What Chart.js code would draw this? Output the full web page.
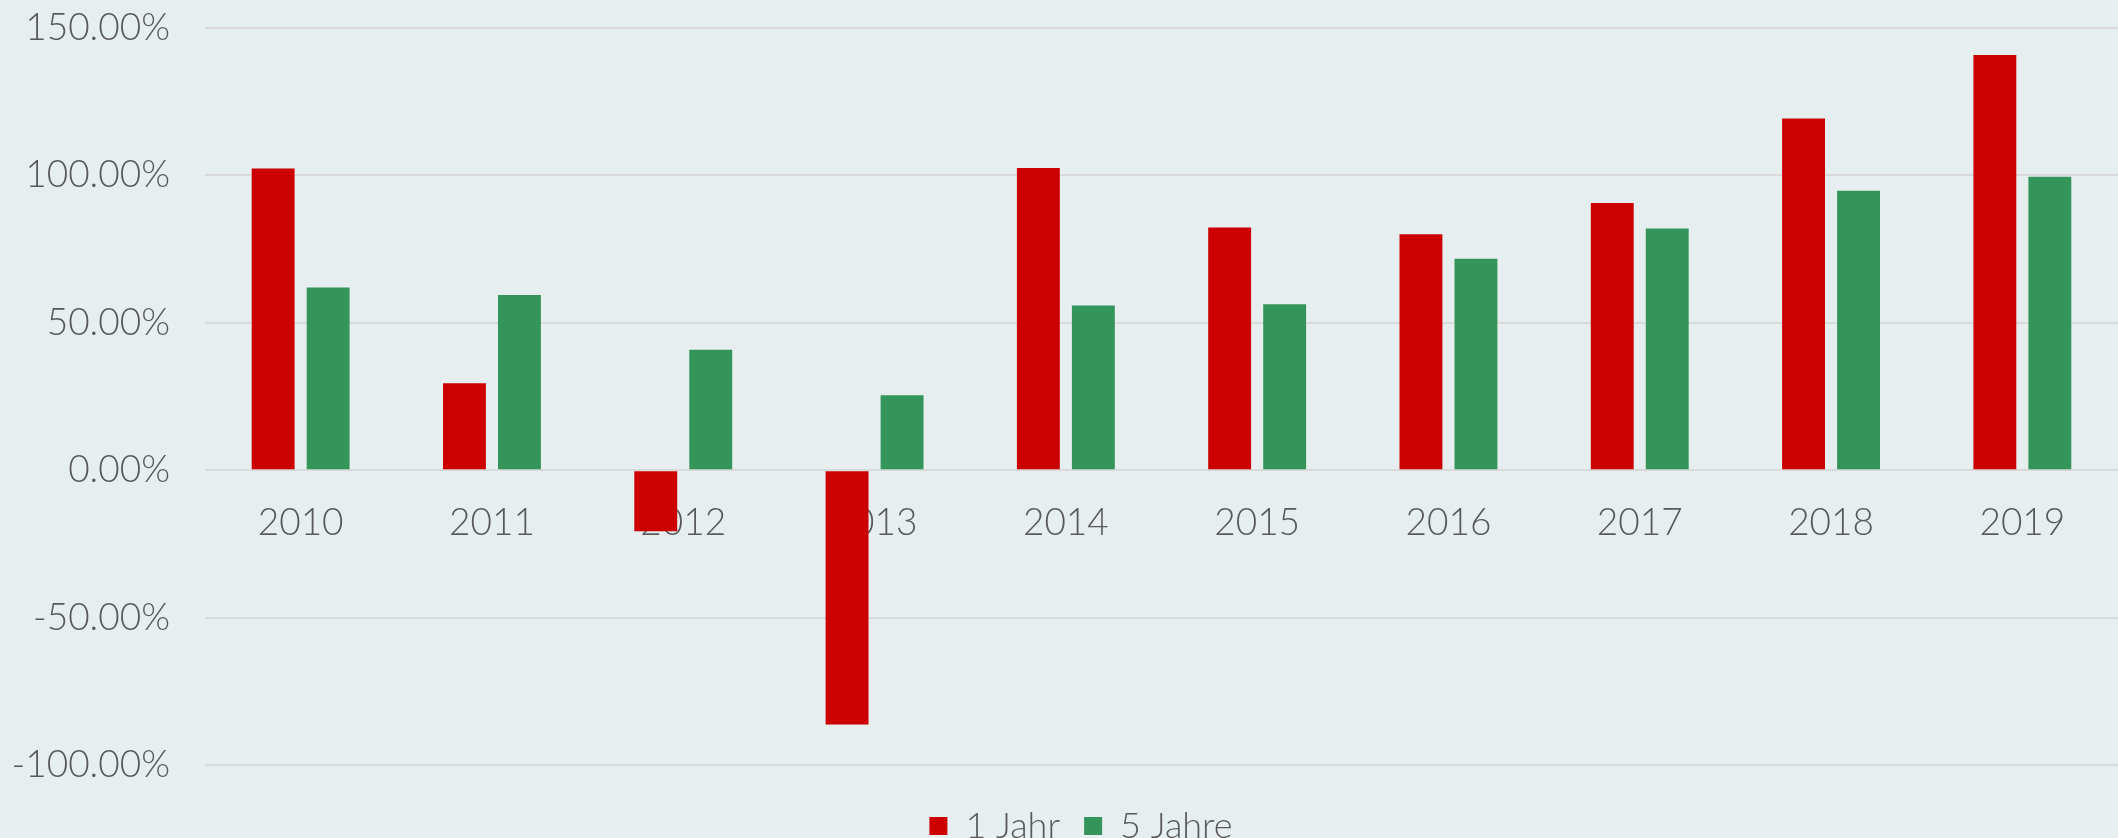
<!DOCTYPE html>
<html>
<head>
<meta charset="utf-8">
<script src="https://cdn.jsdelivr.net/npm/chart.js@4.4.1/dist/chart.umd.min.js"></script>
<style>
  html, body { margin: 0; padding: 0; background: #E7EEF0; overflow: hidden; }
  /* a bit taller than the window: the legend is cut at the bottom edge like the original */
  #wrap { width: 2118px; height: 854px; }
</style>
</head>
<body>
<div id="wrap"><canvas id="returnsChart"></canvas></div>
<script>
const years = ['2010', '2011', '2012', '2013', '2014', '2015', '2016', '2017', '2018', '2019'];
const oneYear = [102.3, 29.5, -20.7, -86.3, 102.5, 82.3, 80.0, 90.6, 119.3, 140.8];
const fiveYears = [62.0, 59.4, 40.9, 25.4, 55.9, 56.3, 71.7, 82.0, 94.8, 99.5];
const seriesNames = ['1 Jahr', '5 Jahre'];

const textColor = '#595959';
const fontFamily = 'Lato, "DejaVu Sans", sans-serif';

// the original legend sits a little right of the canvas centre
const legendShift = {
    id: 'legendShift',
    afterLayout(chart) {
        chart.legend.left += 22;
        chart.legend.right += 22;
    }
};

const ctx = document.getElementById('returnsChart').getContext('2d');
new Chart(ctx, {
    type: 'bar',
    data: {
        labels: years,
        datasets: [{
            label: seriesNames[0],
            data: oneYear,
            backgroundColor: '#CC0000',
            categoryPercentage: 0.575,
            barPercentage: 0.78
        }, {
            label: seriesNames[1],
            data: fiveYears,
            backgroundColor: '#339559',
            categoryPercentage: 0.575,
            barPercentage: 0.78
        }]
    },
    options: {
        responsive: true,
        maintainAspectRatio: false,
        animation: false,
        layout: {
            padding: { top: 28, right: 0, bottom: 0, left: 0 }
        },
        plugins: {
            tooltip: { enabled: false },
            legend: {
                position: 'bottom',
                // empty title only pushes the items down a little
                title: { display: true, text: '', font: { size: 10 }, padding: { top: 7, bottom: 0 } },
                labels: {
                    color: textColor,
                    font: { family: fontFamily, size: 36, weight: 300 },
                    boxWidth: 18,
                    boxHeight: 18,
                    padding: 24
                }
            }
        },
        scales: {
            x: {
                position: { y: 0 },
                z: 1,
                grid: { display: false },
                border: { display: false },
                ticks: {
                    color: textColor,
                    font: { family: fontFamily, size: 37, weight: 300 },
                    padding: 23
                }
            },
            y: {
                min: -100,
                max: 150,
                afterFit: function (scale) { scale.width = 205; },
                grid: { color: '#D9D9D9', lineWidth: 2, drawTicks: true, tickLength: 35, tickColor: 'transparent' },
                border: { display: false },
                ticks: {
                    stepSize: 50,
                    color: textColor,
                    font: { family: fontFamily, size: 37, weight: 300 },
                    padding: 0,
                    callback: function (value) { return value.toFixed(2) + '%'; }
                }
            }
        }
    },
    plugins: [legendShift]
});
</script>
</body>
</html>
